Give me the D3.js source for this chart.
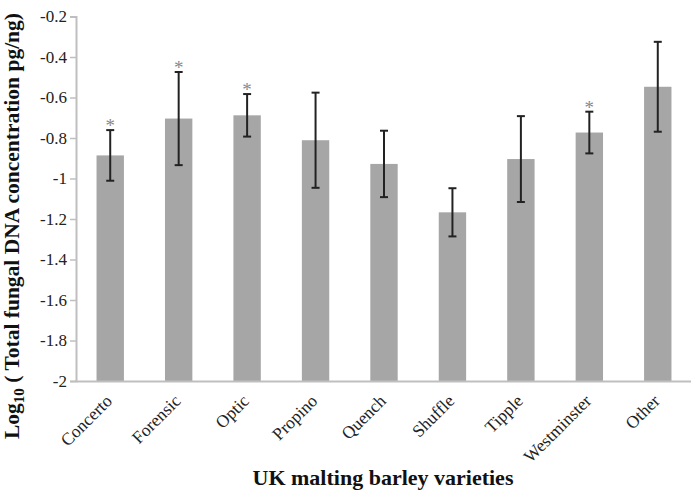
<!DOCTYPE html>
<html><head><meta charset="utf-8">
<script src="https://cdn.jsdelivr.net/npm/d3@7/dist/d3.min.js"></script>
<style>body{margin:0;background:#fff}svg{display:block}</style>
</head><body>
<svg id="c" width="691" height="493"></svg>
<script>
const categories = ["Concerto","Forensic","Optic","Propino","Quench","Shuffle","Tipple","Westminster","Other"];
const means = [-0.886,-0.704,-0.688,-0.811,-0.928,-1.167,-0.904,-0.773,-0.547];
const errors = [0.125,0.230,0.105,0.235,0.164,0.119,0.212,0.103,0.222];
const significant = [true,true,true,false,false,false,false,true,false];
const yTicks = [-0.2,-0.4,-0.6,-0.8,-1,-1.2,-1.4,-1.6,-1.8,-2];

const svg = d3.select("#c");
const font = "'Liberation Serif','Times New Roman',serif";
const x = d3.scaleBand().domain(categories).range([76, 692]).paddingInner(0.6).paddingOuter(0.3);
const y = d3.scaleLinear().domain([-2, -0.2]).range([381, 16.5]);

// bars
svg.selectAll("rect.bar").data(categories).enter().append("rect")
  .attr("x", d => x(d)).attr("width", x.bandwidth())
  .attr("y", (d,i) => y(means[i])).attr("height", (d,i) => y(-2) - y(means[i]))
  .attr("fill", "#a6a6a6");

// axes
const yAxis = svg.append("g").attr("transform","translate(76,0)")
  .call(d3.axisLeft(y).tickValues(yTicks).tickSize(6).tickPadding(3).tickFormat(d => String(d)));
yAxis.attr("font-family", null).attr("font-size", null);
yAxis.select(".domain").attr("stroke","#bfbfbf").attr("stroke-width",2);
yAxis.selectAll(".tick line").attr("stroke","#bfbfbf").attr("stroke-width",1.5);
yAxis.selectAll("text").style("font-family",font).style("font-size","17px").attr("fill","#222");

const xAxis = svg.append("g").attr("transform","translate(0,381)")
  .call(d3.axisBottom(x).tickSize(0).tickSizeOuter(0));
xAxis.attr("font-family", null).attr("font-size", null);
xAxis.select(".domain").attr("stroke","#bfbfbf").attr("stroke-width",2);
xAxis.selectAll(".tick text").style("font-family",font).style("font-size","17.5px").attr("fill","#222")
  .attr("text-anchor","end").attr("dy",0).attr("y",0)
  .attr("transform","translate(3,21) rotate(-45)");

// error bars
const eb = svg.append("g").attr("stroke","#222").attr("stroke-width",2);
categories.forEach((c,i) => {
  const cx = x(c) + x.bandwidth()/2;
  const t = y(means[i]+errors[i]), b = y(means[i]-errors[i]);
  eb.append("line").attr("x1",cx).attr("x2",cx).attr("y1",t).attr("y2",b);
  eb.append("line").attr("x1",cx-4).attr("x2",cx+4).attr("y1",t).attr("y2",t);
  eb.append("line").attr("x1",cx-4).attr("x2",cx+4).attr("y1",b).attr("y2",b);
  if (significant[i]) {
    svg.append("text").attr("x",cx).attr("y",t+2).attr("text-anchor","middle")
      .style("font-family",font).style("font-size","19px").attr("fill","#888").text("*");
  }
});

// axis titles
const yl = svg.append("text").attr("transform","translate(19,226) rotate(-90)")
  .attr("text-anchor","middle").style("font-family",font).style("font-size","21.5px")
  .attr("font-weight","bold").attr("fill","#111");
yl.append("tspan").text("Log");
yl.append("tspan").style("font-size","15px").attr("dy",5).text("10");
yl.append("tspan").attr("dy",-5).text(" ( Total fungal DNA concentration pg/ng)");

svg.append("text").attr("x",383).attr("y",485).attr("text-anchor","middle")
  .style("font-family",font).style("font-size","22px").attr("font-weight","bold").attr("fill","#111")
  .text("UK malting barley varieties");
</script>
</body></html>
